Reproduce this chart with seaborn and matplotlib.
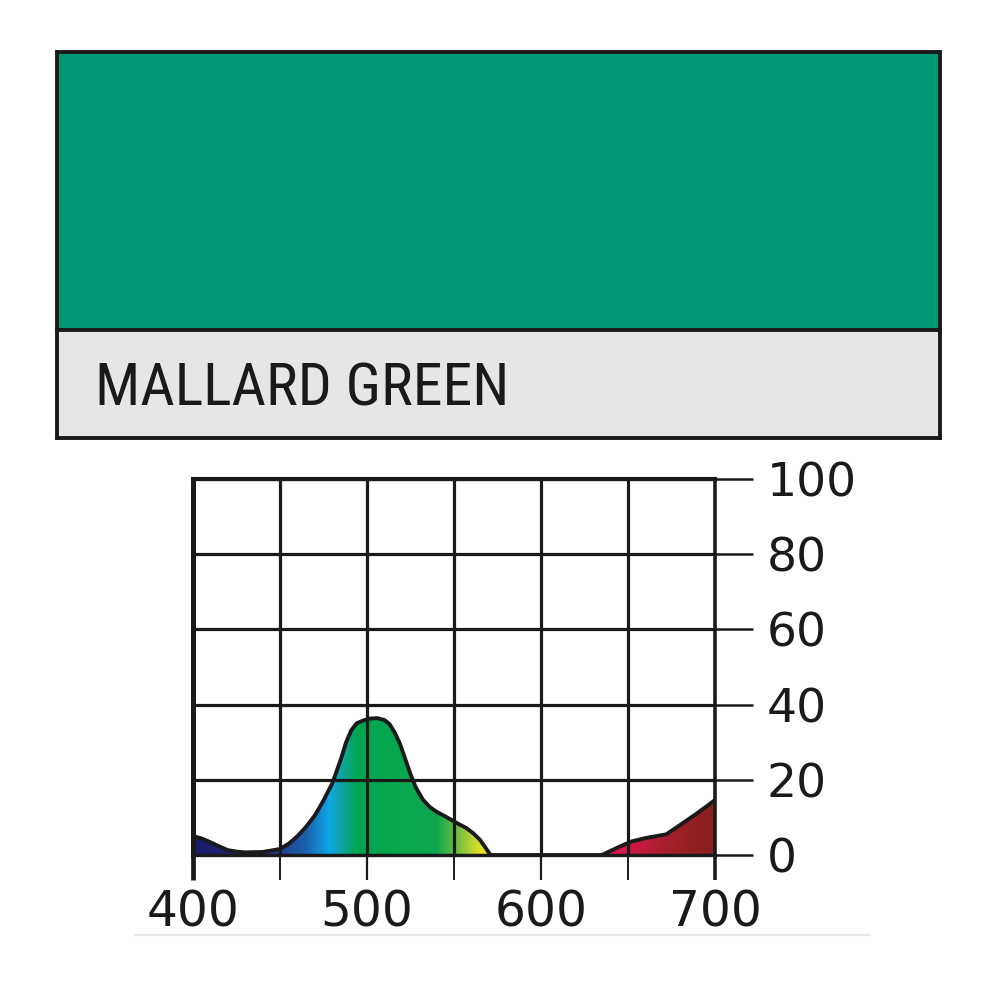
import numpy as np
import pandas as pd
import matplotlib
matplotlib.use("Agg")
import matplotlib.pyplot as plt
import seaborn as sns
from matplotlib.colors import LinearSegmentedColormap
from matplotlib.lines import Line2D

# ---------------- data ----------------
filter_name = "MALLARD GREEN"
swatch_color = "#009874"

wavelength = [400, 405, 410, 415, 420, 425, 430, 440, 450, 455, 460, 465, 470,
              475, 480, 485, 488, 491, 494, 498, 502, 506, 510, 513, 516, 519,
              522, 525, 528, 532, 536, 540, 546, 552, 557, 561, 565, 568, 571,
              600, 635, 645, 652, 660, 672, 680, 690, 700]
transmission = [5.0, 4.4, 3.4, 2.3, 1.3, 0.9, 0.7, 0.8, 1.6, 3.0, 5.0, 7.5, 10.5,
                14.5, 19.0, 25.5, 30.0, 33.2, 35.0, 35.8, 36.3, 36.4, 35.9, 34.8, 32.5, 29.5,
                25.5, 21.5, 18.0, 14.8, 12.8, 11.5, 10.0, 8.4, 7.2, 5.8, 4.0, 2.0, 0.0,
                0.0, 0.0, 2.2, 3.6, 4.5, 5.5, 8.0, 11.2, 14.6]

x_major = [400, 500, 600, 700]
x_minor = [450, 550, 650]
y_ticks = [0, 20, 40, 60, 80, 100]

# spectrum colours for the fill (wavelength, colour)
spec_nm = [400, 425, 450, 465, 478, 486, 494, 540, 550, 560, 567, 600, 635, 650, 665, 685, 700]
spec_col = ["#1c1a6b", "#1c2270", "#1d3f8e", "#1b64b0", "#0ea8e6", "#10a49a", "#00a651",
            "#0fa84e", "#5cbb45", "#b5d232", "#e8e620", "#e0205a", "#e5175a", "#d4164a",
            "#b31c36", "#952023", "#8a1f1f"]

df = pd.DataFrame({"wavelength": wavelength, "transmission": transmission})

# ---------------- figure ----------------
sns.set_theme(style="white")
plt.rcParams["font.family"] = ["DejaVu Sans"]
fig = plt.figure(figsize=(10, 10), dpi=100)
fig.patch.set_facecolor("white")

W, H = 1000.0, 1000.0
def rect(x0, y0, x1, y1):
    return [x0 / W, 1 - y1 / H, (x1 - x0) / W, (y1 - y0) / H]

dark = "#1a1a1a"

# swatch
ax_sw = fig.add_axes(rect(57, 52, 940, 330))
ax_sw.set_facecolor(swatch_color)
ax_sw.set_xticks([]); ax_sw.set_yticks([])
for s in ax_sw.spines.values():
    s.set_visible(True); s.set_color(dark); s.set_linewidth(2.8)

# label band
ax_lb = fig.add_axes(rect(57, 330, 940, 438))
ax_lb.set_facecolor("#e6e6e6")
ax_lb.set_xticks([]); ax_lb.set_yticks([])
for s in ax_lb.spines.values():
    s.set_visible(True); s.set_color(dark); s.set_linewidth(2.8)
ax_lb.text(0.043, 0.305, filter_name, transform=ax_lb.transAxes,
           fontsize=43, color=dark, ha="left", va="baseline",
           family=["Roboto Condensed", "Liberation Sans Narrow", "Liberation Sans"])

# spectral chart
ax = fig.add_axes(rect(193, 479, 715, 855))
ax.set_facecolor("white")

# gradient fill clipped to area under curve
poly = ax.fill_between(df["wavelength"], 0, df["transmission"], facecolor="none",
                       edgecolor="none", zorder=1)
cmap = LinearSegmentedColormap.from_list(
    "spec", [((n - 400) / 300.0, c) for n, c in zip(spec_nm, spec_col)])
grad = np.linspace(0, 1, 600).reshape(1, -1)
im = ax.imshow(grad, cmap=cmap, extent=[400, 700, 0, 100], aspect="auto",
               origin="lower", zorder=1, interpolation="bilinear")
im.set_clip_path(poly.get_paths()[0], transform=ax.transData)

sns.lineplot(data=df, x="wavelength", y="transmission", ax=ax, color=dark,
             linewidth=2.8, zorder=4, sort=False)

ax.set_xlim(400, 700)
ax.set_ylim(0, 100)
ax.set_xlabel(""); ax.set_ylabel("")

ax.set_xticks(x_major)
ax.set_xticks(x_minor, minor=True)
ax.set_xticklabels([str(v) for v in x_major])
ax.set_yticks(y_ticks)
ax.set_yticklabels([str(v) for v in y_ticks])
ax.yaxis.tick_right()

ax.grid(True, which="both", axis="x", color=dark, linewidth=2.3, zorder=2)
ax.grid(True, which="major", axis="y", color=dark, linewidth=2.3, zorder=2)
ax.set_axisbelow(False)

ax.tick_params(axis="x", which="major", direction="out", length=18, width=1.6,
               color=dark, labelsize=35, labelcolor=dark, pad=6, bottom=True)
ax.tick_params(axis="x", which="minor", direction="out", length=18, width=1.4,
               color=dark, bottom=True)
ax.tick_params(axis="y", which="major", direction="out", length=27, width=1.8,
               color=dark, labelsize=34, labelcolor=dark, pad=10, right=True, left=False)
xt = ax.xaxis.get_major_ticks()
xt[0].tick1line.set_markeredgewidth(3.4)
xt[-1].tick1line.set_markeredgewidth(2.6)

for name, lw in [("left", 3.6), ("top", 3.0), ("right", 2.6), ("bottom", 2.4)]:
    ax.spines[name].set_visible(True)
    ax.spines[name].set_color(dark)
    ax.spines[name].set_linewidth(lw)
    ax.spines[name].set_zorder(5)

# faint rule under the chart
fig.add_artist(Line2D([135 / W, 870 / W], [1 - 935 / H, 1 - 935 / H],
                      transform=fig.transFigure, color="#e8e8e8", linewidth=1.6))

fig.savefig("out.png", dpi=100, facecolor="white")
